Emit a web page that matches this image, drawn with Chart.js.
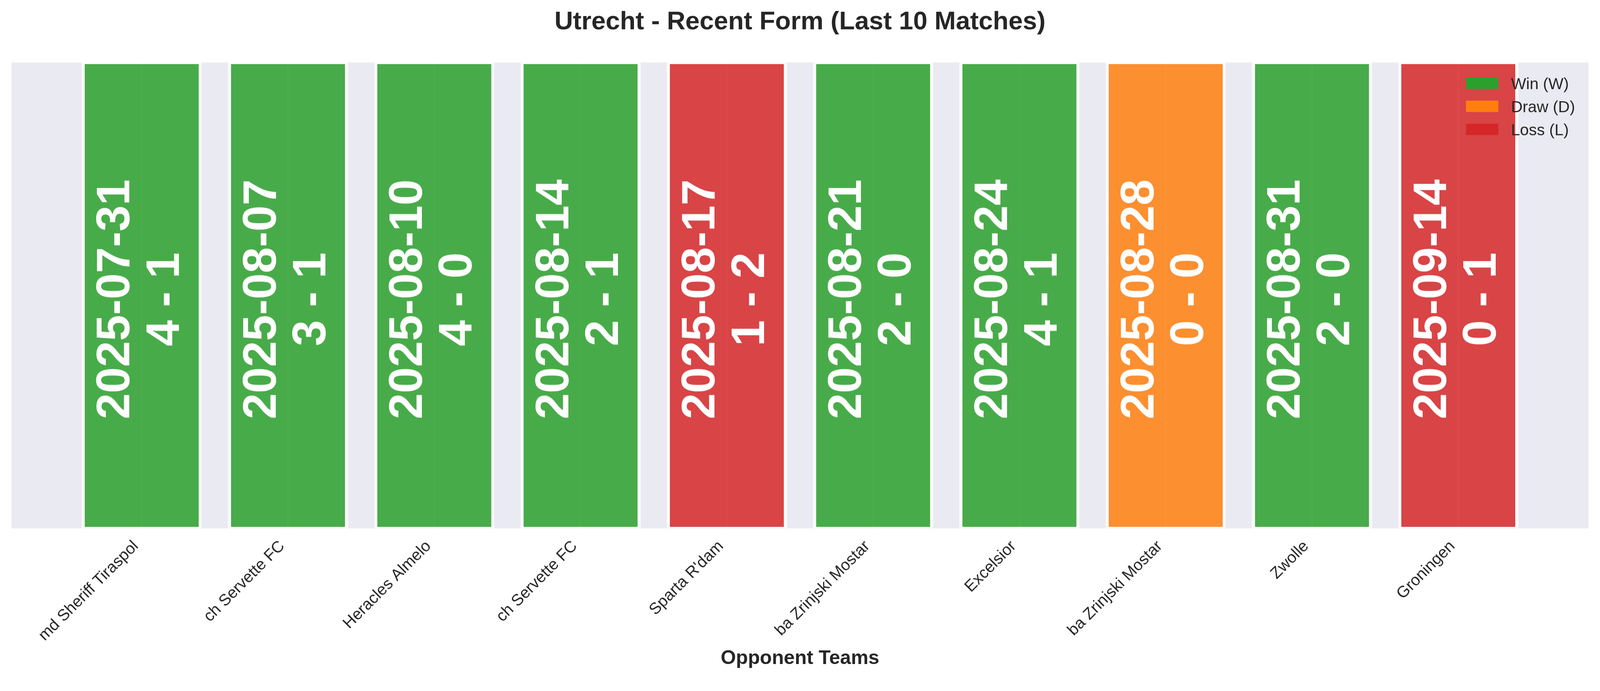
<!DOCTYPE html>
<html>
<head>
<meta charset="utf-8">
<script src="https://cdn.jsdelivr.net/npm/chart.js@4/dist/chart.umd.min.js"></script>
<style>
  html, body { margin: 0; padding: 0; background: #ffffff; overflow: hidden; }
  #wrap { position: relative; width: 100vw; }
</style>
</head>
<body>
<div id="wrap"><canvas id="formChart"></canvas></div>
<script>
// match data, oldest first
const teams = ['md Sheriff Tiraspol', 'ch Servette FC', 'Heracles Almelo', 'ch Servette FC', "Sparta R'dam",
               'ba Zrinjski Mostar', 'Excelsior', 'ba Zrinjski Mostar', 'Zwolle', 'Groningen'];
const dates = ['2025-07-31', '2025-08-07', '2025-08-10', '2025-08-14', '2025-08-17',
               '2025-08-21', '2025-08-24', '2025-08-28', '2025-08-31', '2025-09-14'];
const scores = ['4 - 1', '3 - 1', '4 - 0', '2 - 1', '1 - 2', '2 - 0', '4 - 1', '0 - 0', '2 - 0', '0 - 1'];
const results = ['W', 'W', 'W', 'W', 'L', 'W', 'W', 'D', 'W', 'L'];
const barValues = [1, 1, 1, 1, 1, 1, 1, 1, 1, 1];

const legendKeys = ['W', 'D', 'L'];
const legendLabels = ['Win (W)', 'Draw (D)', 'Loss (L)'];

const solid = { W: '#2ca02c', D: '#ff7f0e', L: '#d62728' };
const faded = { W: 'rgba(44,160,44,0.85)', D: 'rgba(255,127,14,0.85)', L: 'rgba(214,39,40,0.85)' };

const FONT = "'Liberation Sans', Arial, sans-serif";
const TEXT_DARK = '#262626';

// everything below is sized for a 4163x1769 page, scale to the real viewport width
const S = window.innerWidth / 4163;
const px = (v) => v * S;
document.getElementById('wrap').style.height = px(1769) + 'px';

Chart.defaults.font.family = FONT;

// grey plot background like seaborn darkgrid
const plotBackground = {
    id: 'plotBackground',
    beforeDraw: (chart) => {
        const { ctx, chartArea } = chart;
        ctx.save();
        ctx.fillStyle = '#eaeaf2';
        ctx.fillRect(chartArea.left, chartArea.top, chartArea.right - chartArea.left, chartArea.bottom - chartArea.top);
        ctx.restore();
    }
};

// date + score written sideways in every bar
const barText = {
    id: 'barText',
    afterDatasetsDraw: (chart) => {
        const ctx = chart.ctx;
        const meta = chart.getDatasetMeta(0);
        const yMid = chart.scales.y.getPixelForValue(0.5) + px(10);
        ctx.save();
        ctx.fillStyle = '#ffffff';
        ctx.font = 'bold ' + px(122) + 'px ' + FONT;
        ctx.textAlign = 'center';
        ctx.textBaseline = 'alphabetic';
        meta.data.forEach((bar, i) => {
            ctx.save();
            ctx.translate(bar.x, yMid);
            ctx.rotate(-Math.PI / 2);
            ctx.fillText(dates[i], 0, px(-32));
            ctx.fillText(scores[i], 0, px(97));
            ctx.restore();
        });
        ctx.restore();
    }
};

// legend sits inside the plot, upper right, no frame
const insideLegend = {
    id: 'insideLegend',
    afterDraw: (chart) => {
        const { ctx, chartArea } = chart;
        const size = px(41.67);
        ctx.save();
        ctx.font = size + 'px ' + FONT;
        const maxW = Math.max(...legendLabels.map(t => ctx.measureText(t).width));
        const textX = chartArea.right - px(35) - maxW;
        const boxW = px(84), boxH = px(29.5), gap = px(33), rowStep = px(60);
        legendKeys.forEach((k, i) => {
            const top = chartArea.top + px(39) + i * rowStep;
            ctx.fillStyle = solid[k];
            ctx.fillRect(textX - gap - boxW, top, boxW, boxH);
            ctx.fillStyle = TEXT_DARK;
            ctx.textAlign = 'left';
            ctx.textBaseline = 'alphabetic';
            ctx.fillText(legendLabels[i], textX, top + boxH / 2 + 0.358 * size);
        });
        ctx.restore();
    }
};

new Chart(document.getElementById('formChart').getContext('2d'), {
    type: 'bar',
    data: {
        datasets: [{
            data: barValues.map((v, i) => ({ x: i, y: v })),
            backgroundColor: results.map(r => faded[r]),
            borderColor: 'rgba(255,255,255,0.85)',
            borderWidth: { left: px(8), right: px(8), top: px(4), bottom: px(4) },
            borderSkipped: false,
            barPercentage: 0.821,
            categoryPercentage: 1.0
        }]
    },
    options: {
        responsive: true,
        maintainAspectRatio: false,
        animation: false,
        layout: { padding: { left: px(30), right: px(30), top: 0, bottom: 0 } },
        plugins: {
            legend: { display: false },
            tooltip: { enabled: false },
            title: {
                display: true,
                text: 'Utrecht - Recent Form (Last 10 Matches)',
                color: TEXT_DARK,
                font: { size: px(66.67), weight: 'bold', lineHeight: 1.2 },
                padding: { top: px(17.6), bottom: px(65) }
            }
        },
        scales: {
            x: {
                type: 'linear',
                min: -0.89,
                max: 9.89,
                offset: false,
                afterBuildTicks: (axis) => {
                    axis.ticks = teams.map((t, i) => ({ value: i }));
                },
                afterFit: (scale) => { scale.height = px(395); },
                ticks: {
                    autoSkip: false,
                    minRotation: 45,
                    maxRotation: 45,
                    padding: px(38),
                    labelOffset: px(-15),
                    color: TEXT_DARK,
                    font: { size: px(41.67), lineHeight: 0.14 },
                    callback: (value) => teams[value]
                },
                grid: { color: '#ffffff', lineWidth: px(4), drawTicks: false, offset: false },
                border: { display: false },
                title: {
                    display: true,
                    text: 'Opponent Teams',
                    color: TEXT_DARK,
                    font: { size: px(51), weight: 'bold', lineHeight: 1.2 },
                    padding: { top: 0, bottom: px(26) }
                }
            },
            y: {
                display: false,
                min: 0,
                max: 1
            }
        }
    },
    plugins: [plotBackground, barText, insideLegend]
});
</script>
</body>
</html>
